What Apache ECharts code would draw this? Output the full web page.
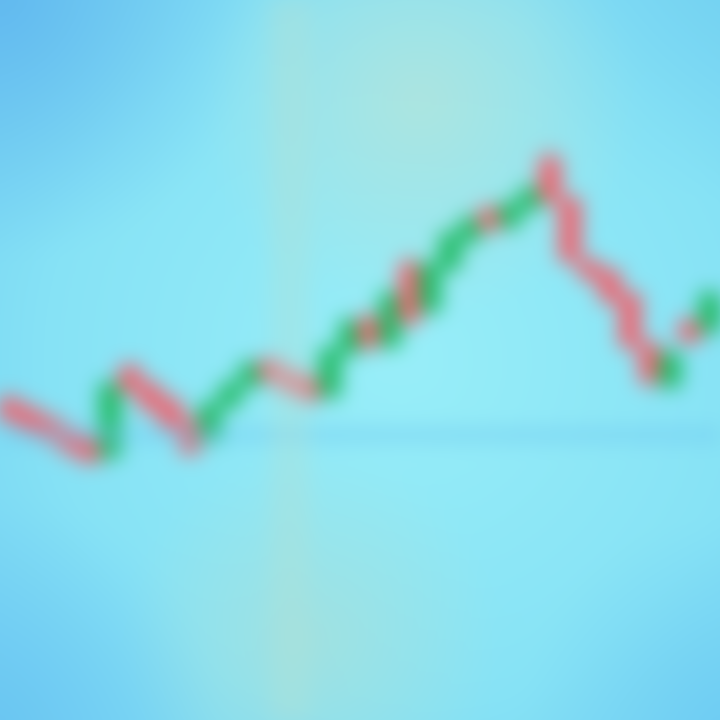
<!DOCTYPE html>
<html><head><meta charset="utf-8">
<script src="https://cdn.jsdelivr.net/npm/echarts@6/dist/echarts.min.js"></script>
<style>
html,body{margin:0;padding:0;width:720px;height:720px;overflow:hidden;background:#86e0f2;}
#c{position:absolute;left:-40px;top:-40px;width:800px;height:800px;filter:blur(10px);}
</style></head>
<body><div id="c"></div>
<script>
// candle data (value units; higher = up)
const categories = ['1','2','3','4','5','6','7','8','9','10','11','12','13','14','15','16','17','18','19','20','21','22','23','24','25','26','27','28','29','30','31','32','33','34','35','36'];
const opens  = [320,310,300,290,280,265,352,335,320,300,280,315,335,358,348,340,325,368,402,375,455,410,452,480,510,495,512,560,520,458,448,425,375,335,398,390];
const closes = [302,292,280,270,260,335,330,312,295,270,315,335,355,342,330,322,370,398,375,425,400,455,485,500,492,515,530,520,460,442,420,375,340,365,380,425];
const lows   = [295,285,275,262,255,258,325,305,288,262,275,310,330,336,325,316,320,362,368,370,390,405,448,475,488,490,508,515,455,438,415,368,330,330,375,385];
const highs  = [326,316,306,296,286,340,358,340,325,305,320,340,360,362,352,345,375,402,406,430,465,460,490,505,514,520,535,572,525,462,452,430,380,370,402,430];

const data = categories.map((c,i)=>[opens[i],closes[i],lows[i],highs[i]]);

function blob(cx,cy,r,col){
  return {type:'circle',z:-1,silent:true,shape:{cx:cx+40,cy:cy+40,r:r},
    style:{fill:{type:'radial',x:0.5,y:0.5,r:0.5,colorStops:[{offset:0,color:col},{offset:1,color:col.replace(/[\d.]+\)$/,'0)')}]}}};
}

const chart = echarts.init(document.getElementById('c'));
chart.setOption({
  animation:false,
  backgroundColor:{type:'radial',x:0.55,y:0.5,r:0.8,colorStops:[
    {offset:0,color:'#98eef8'},{offset:0.55,color:'#86e2f5'},{offset:1,color:'#6ac8f0'}]},
  graphic:[
    blob(420,100,220,'rgba(180,228,218,0.8)'),
    blob(310,640,190,'rgba(170,224,215,0.7)'),
    blob(0,0,260,'rgba(90,175,238,0.7)'),
    blob(0,720,220,'rgba(100,190,242,0.6)'),
    blob(720,720,200,'rgba(100,195,242,0.5)'),
    blob(720,0,200,'rgba(110,205,240,0.4)')
  ],
  grid:{left:40,right:40,top:40,bottom:40},
  xAxis:{type:'category',data:categories,boundaryGap:true,show:false},
  yAxis:{type:'value',min:0,max:720,show:false},
  series:[{
    type:'candlestick',
    data:data,
    barWidth:19,
    itemStyle:{color:'#22bb66',color0:'#ee6470',borderColor:'#22bb66',borderColor0:'#ee6470',borderWidth:4},
    markLine:{silent:true,symbol:'none',label:{show:false},
      data:[
        {yAxis:285,lineStyle:{color:'rgba(110,200,240,0.5)',width:14,type:'solid'}},
        {xAxis:'15',lineStyle:{color:'rgba(175,225,215,0.4)',width:40,type:'solid'}}
      ]}
  }]
});
</script></body></html>
